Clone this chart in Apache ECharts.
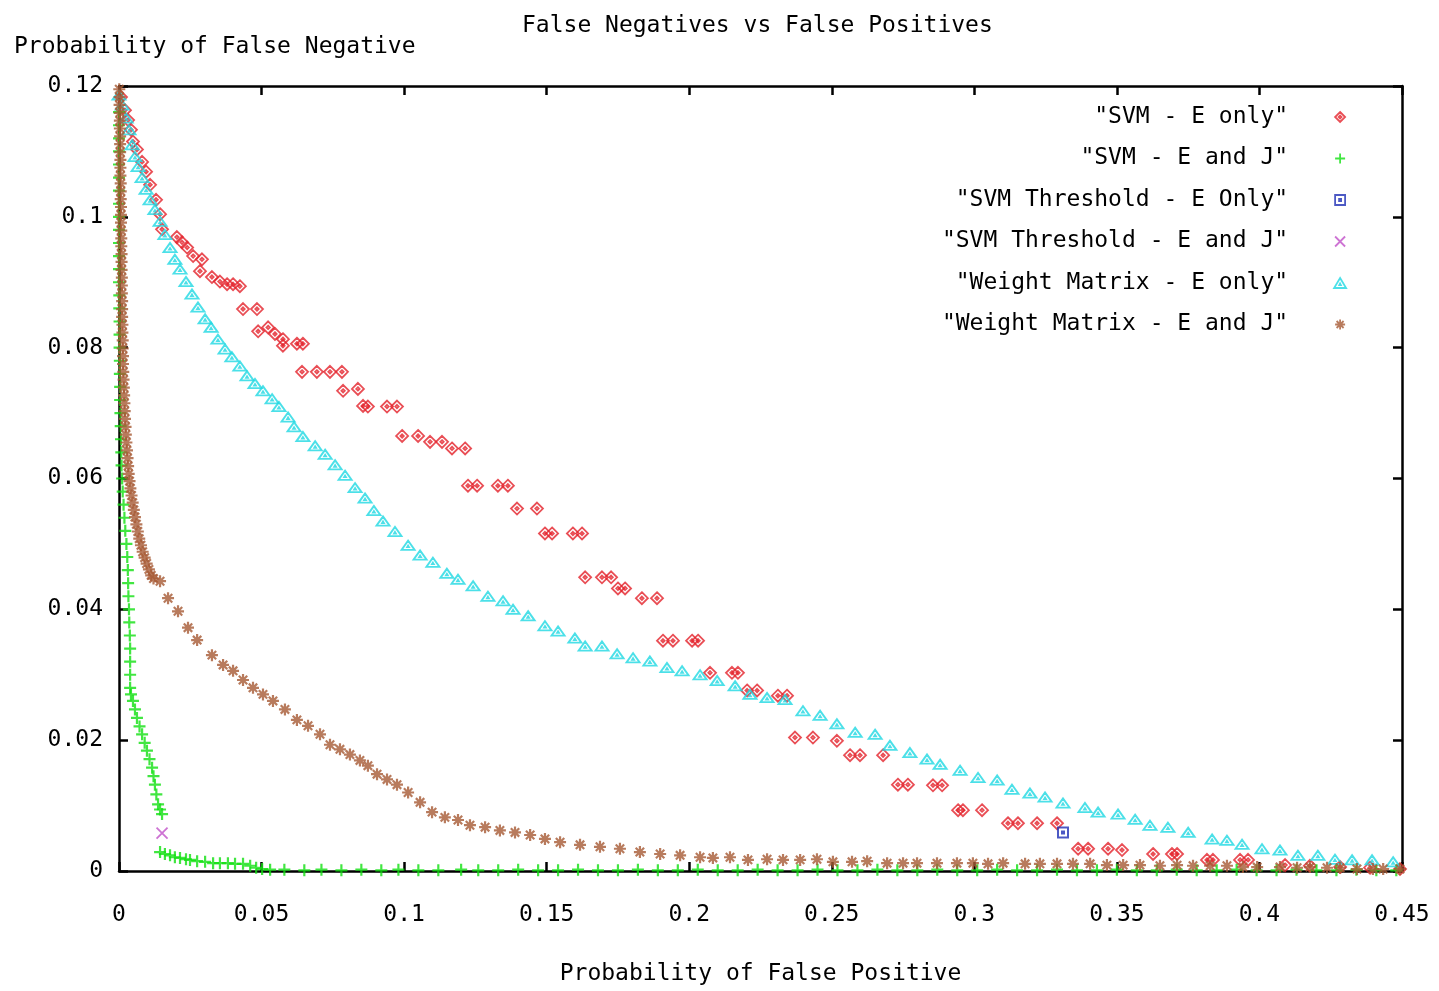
<!DOCTYPE html>
<html>
<head>
<meta charset="utf-8">
<script src="https://cdn.jsdelivr.net/npm/echarts@6/dist/echarts.min.js"></script>
<style>
  html, body { margin: 0; padding: 0; background: #ffffff; }
  #chart { width: 1439px; height: 991px; }
</style>
</head>
<body>
<div id="chart"></div>
<script>
// ---- series values: [probability of false positive, probability of false negative] ----
const svmEOnly = [
  [0.0007,0.1183],[0.0021,0.1163],[0.0032,0.1148],[0.0042,0.1133],[0.0049,0.1115],[0.0063,0.1103],
  [0.0081,0.1084],[0.0095,0.1069],[0.0109,0.1049],[0.0130,0.1026],[0.0144,0.1004],[0.0151,0.0981],
  [0.0203,0.0969],[0.0221,0.0961],[0.0239,0.0953],[0.0260,0.0940],[0.0291,0.0935],[0.0284,0.0917],
  [0.0326,0.0908],[0.0354,0.0901],[0.0379,0.0897],[0.0400,0.0897],[0.0424,0.0894],[0.0435,0.0859],
  [0.0484,0.0859],[0.0488,0.0825],[0.0523,0.0831],[0.0547,0.0821],[0.0575,0.0813],[0.0575,0.0803],
  [0.0624,0.0806],[0.0645,0.0806],[0.0642,0.0763],[0.0694,0.0763],[0.0740,0.0763],[0.0782,0.0763],
  [0.0786,0.0734],[0.0838,0.0737],[0.0856,0.0711],[0.0873,0.0710],[0.0940,0.0710],[0.0975,0.0710],
  [0.0993,0.0665],[0.1049,0.0665],[0.1091,0.0656],[0.1133,0.0656],[0.1168,0.0646],[0.1214,0.0646],
  [0.1224,0.0589],[0.1256,0.0589],[0.1329,0.0589],[0.1364,0.0589],[0.1396,0.0554],[0.1466,0.0554],
  [0.1494,0.0516],[0.1519,0.0516],[0.1592,0.0516],[0.1624,0.0516],[0.1635,0.0449],[0.1694,0.0449],
  [0.1726,0.0449],[0.1750,0.0432],[0.1775,0.0432],[0.1834,0.0417],[0.1887,0.0417],[0.1908,0.0352],
  [0.1943,0.0352],[0.2010,0.0352],[0.2031,0.0352],[0.2073,0.0303],[0.2150,0.0303],[0.2171,0.0303],
  [0.2203,0.0276],[0.2238,0.0276],[0.2311,0.0268],[0.2343,0.0268],[0.2371,0.0204],[0.2434,0.0204],
  [0.2518,0.0199],[0.2564,0.0177],[0.2599,0.0177],[0.2680,0.0177],[0.2732,0.0132],[0.2767,0.0132],
  [0.2855,0.0131],[0.2887,0.0131],[0.2943,0.0093],[0.2960,0.0093],[0.3027,0.0093],[0.3118,0.0073],
  [0.3153,0.0073],[0.3220,0.0073],[0.3290,0.0073],[0.3364,0.0034],[0.3399,0.0034],[0.3469,0.0034],
  [0.3518,0.0032],[0.3627,0.0026],[0.3693,0.0026],[0.3711,0.0026],[0.3816,0.0017],[0.3837,0.0017],
  [0.3932,0.0017],[0.3960,0.0017],[0.4090,0.0009],[0.4177,0.0008],[0.4283,0.0006],[0.4388,0.0005],
  [0.4493,0.0003]
];

const svmEJ = [
  [0.0000,0.1160],[0.0000,0.1140],[0.0000,0.1120],[0.0000,0.1100],[0.0000,0.1080],[0.0000,0.1060],
  [0.0000,0.1040],[0.0000,0.1020],[0.0000,0.1000],[0.0000,0.0980],[0.0000,0.0960],[0.0000,0.0940],
  [0.0000,0.0920],[0.0000,0.0900],[0.0001,0.0880],[0.0001,0.0860],[0.0002,0.0840],[0.0002,0.0820],
  [0.0002,0.0800],[0.0003,0.0780],[0.0003,0.0760],[0.0004,0.0740],[0.0004,0.0720],[0.0005,0.0700],
  [0.0006,0.0680],[0.0007,0.0660],[0.0008,0.0640],[0.0009,0.0620],[0.0011,0.0600],[0.0013,0.0580],
  [0.0016,0.0560],[0.0019,0.0540],[0.0022,0.0520],[0.0026,0.0500],[0.0029,0.0480],[0.0031,0.0460],
  [0.0032,0.0440],[0.0033,0.0420],[0.0035,0.0400],[0.0036,0.0380],[0.0038,0.0360],[0.0039,0.0340],
  [0.0039,0.0320],[0.0039,0.0300],[0.0039,0.0280],[0.0042,0.0270],[0.0049,0.0260],[0.0056,0.0247],
  [0.0063,0.0234],[0.0072,0.0221],[0.0081,0.0209],[0.0090,0.0196],[0.0098,0.0184],[0.0107,0.0171],
  [0.0116,0.0158],[0.0121,0.0145],[0.0126,0.0132],[0.0131,0.0117],[0.0137,0.0102],[0.0144,0.0094],
  [0.0151,0.0087],
  [0.0144,0.0029],[0.0161,0.0026],[0.0179,0.0024],[0.0196,0.0021],[0.0214,0.0020],[0.0235,0.0018],
  [0.0249,0.0017],[0.0274,0.0015],[0.0302,0.0014],[0.0330,0.0012],[0.0354,0.0012],[0.0382,0.0012],
  [0.0407,0.0011],[0.0435,0.0011],[0.0460,0.0008],[0.0481,0.0005],[0.0502,0.0003],[0.0530,0.0002],
  [0.0580,0.0002],[0.0650,0.0001],[0.0710,0.0002],[0.0780,0.0001],[0.0850,0.0002],[0.0920,0.0001],
  [0.0980,0.0002],[0.1050,0.0001],[0.1120,0.0001],[0.1200,0.0002],[0.1260,0.0001],[0.1330,0.0001],
  [0.1400,0.0002],[0.1470,0.0001],[0.1540,0.0001],[0.1610,0.0002],[0.1680,0.0001],[0.1750,0.0001],
  [0.1820,0.0002],[0.1890,0.0001],[0.1960,0.0001],[0.2030,0.0002],[0.2100,0.0001],[0.2170,0.0001],
  [0.2240,0.0002],[0.2310,0.0001],[0.2380,0.0001],[0.2450,0.0002],[0.2520,0.0001],[0.2590,0.0001],
  [0.2660,0.0002],[0.2730,0.0001],[0.2800,0.0001],[0.2870,0.0002],[0.2940,0.0001],[0.3010,0.0001],
  [0.3080,0.0002],[0.3150,0.0001],[0.3220,0.0001],[0.3290,0.0002],[0.3360,0.0001],[0.3430,0.0001],
  [0.3500,0.0002],[0.3570,0.0001],[0.3640,0.0001],[0.3710,0.0002],[0.3780,0.0001],[0.3850,0.0001],
  [0.3920,0.0002],[0.3990,0.0001],[0.4060,0.0001],[0.4130,0.0002],[0.4200,0.0001],[0.4270,0.0001],
  [0.4340,0.0002],[0.4410,0.0001],[0.4480,0.0001]
];

const thresholdEOnly = [[0.3311,0.0059]];
const thresholdEJ = [[0.0151,0.0058]];

const weightEOnly = [
  [0.0000,0.1186],[0.0011,0.1171],[0.0025,0.1151],[0.0035,0.1133],[0.0046,0.1110],[0.0056,0.1092],
  [0.0067,0.1077],[0.0081,0.1060],[0.0095,0.1042],[0.0109,0.1026],[0.0126,0.1011],[0.0144,0.0993],
  [0.0161,0.0973],[0.0179,0.0953],[0.0196,0.0935],[0.0214,0.0920],[0.0235,0.0901],[0.0256,0.0882],
  [0.0277,0.0862],[0.0302,0.0844],[0.0323,0.0831],[0.0347,0.0813],[0.0372,0.0798],[0.0396,0.0786],
  [0.0424,0.0772],[0.0449,0.0757],[0.0477,0.0745],[0.0505,0.0734],[0.0537,0.0722],[0.0561,0.0710],
  [0.0593,0.0694],[0.0614,0.0679],[0.0645,0.0664],[0.0688,0.0650],[0.0723,0.0637],[0.0758,0.0621],
  [0.0793,0.0605],[0.0828,0.0586],[0.0863,0.0570],[0.0894,0.0551],[0.0926,0.0535],[0.0968,0.0519],
  [0.1014,0.0498],[0.1056,0.0483],[0.1101,0.0472],[0.1150,0.0455],[0.1189,0.0446],[0.1242,0.0436],
  [0.1294,0.0420],[0.1347,0.0413],[0.1382,0.0400],[0.1435,0.0390],[0.1494,0.0375],[0.1540,0.0367],
  [0.1599,0.0356],[0.1635,0.0344],[0.1694,0.0344],[0.1747,0.0332],[0.1803,0.0326],[0.1862,0.0321],
  [0.1922,0.0311],[0.1975,0.0306],[0.2038,0.0300],[0.2098,0.0291],[0.2161,0.0283],[0.2213,0.0270],
  [0.2273,0.0265],[0.2336,0.0262],[0.2399,0.0245],[0.2459,0.0238],[0.2518,0.0225],[0.2582,0.0212],
  [0.2652,0.0209],[0.2704,0.0192],[0.2774,0.0181],[0.2834,0.0171],[0.2880,0.0163],[0.2950,0.0154],
  [0.3013,0.0143],[0.3080,0.0139],[0.3132,0.0125],[0.3195,0.0119],[0.3248,0.0113],[0.3311,0.0104],
  [0.3388,0.0097],[0.3434,0.0090],[0.3504,0.0087],[0.3564,0.0079],[0.3616,0.0070],[0.3679,0.0067],
  [0.3750,0.0059],[0.3834,0.0049],[0.3886,0.0047],[0.3939,0.0041],[0.4009,0.0034],[0.4072,0.0032],
  [0.4135,0.0024],[0.4205,0.0024],[0.4265,0.0018],[0.4325,0.0017],[0.4395,0.0017],[0.4469,0.0014]
];

const weightEJ = [
  [0.0001,0.1195],[0.0002,0.1183],[0.0002,0.1171],[0.0003,0.1159],[0.0003,0.1147],[0.0003,0.1135],
  [0.0004,0.1123],[0.0004,0.1111],[0.0004,0.1099],[0.0005,0.1087],[0.0005,0.1075],[0.0005,0.1063],
  [0.0006,0.1051],[0.0006,0.1039],[0.0006,0.1027],[0.0007,0.1015],[0.0007,0.1003],[0.0007,0.0991],
  [0.0008,0.0979],[0.0008,0.0967],[0.0008,0.0955],[0.0009,0.0943],[0.0009,0.0931],[0.0009,0.0919],
  [0.0010,0.0907],[0.0010,0.0895],[0.0010,0.0883],[0.0011,0.0871],[0.0011,0.0859],[0.0011,0.0847],
  [0.0012,0.0835],[0.0012,0.0823],[0.0013,0.0811],[0.0013,0.0799],[0.0014,0.0787],[0.0014,0.0775],
  [0.0015,0.0763],[0.0016,0.0751],[0.0017,0.0739],[0.0018,0.0727],[0.0019,0.0715],[0.0020,0.0703],
  [0.0021,0.0691],[0.0023,0.0679],[0.0024,0.0667],[0.0026,0.0655],[0.0028,0.0643],[0.0030,0.0631],
  [0.0032,0.0619],[0.0034,0.0607],[0.0037,0.0596],[0.0040,0.0585],[0.0044,0.0574],[0.0048,0.0563],
  [0.0052,0.0552],[0.0056,0.0541],[0.0061,0.0530],[0.0066,0.0519],[0.0071,0.0508],[0.0077,0.0498],
  [0.0083,0.0488],[0.0090,0.0479],[0.0097,0.0470],[0.0105,0.0461],[0.0113,0.0452],[0.0121,0.0447],
  [0.0144,0.0443],[0.0172,0.0417],[0.0207,0.0397],[0.0242,0.0372],[0.0274,0.0353],[0.0326,0.0330],
  [0.0365,0.0315],[0.0400,0.0306],[0.0435,0.0292],[0.0470,0.0280],[0.0505,0.0270],[0.0540,0.0260],
  [0.0582,0.0247],[0.0624,0.0231],[0.0663,0.0222],[0.0705,0.0209],[0.0740,0.0193],[0.0775,0.0186],
  [0.0810,0.0178],[0.0845,0.0169],[0.0873,0.0161],[0.0905,0.0148],[0.0940,0.0140],[0.0975,0.0132],
  [0.1014,0.0120],[0.1056,0.0105],[0.1098,0.0090],[0.1143,0.0082],[0.1189,0.0078],[0.1231,0.0070],
  [0.1284,0.0067],[0.1336,0.0062],[0.1389,0.0059],[0.1442,0.0055],[0.1494,0.0049],[0.1547,0.0044],
  [0.1617,0.0040],[0.1687,0.0037],[0.1757,0.0034],[0.1827,0.0029],[0.1898,0.0026],[0.1968,0.0024],
  [0.2038,0.0021],[0.2083,0.0020],[0.2143,0.0021],[0.2206,0.0017],[0.2273,0.0018],[0.2329,0.0017],
  [0.2389,0.0017],[0.2448,0.0018],[0.2504,0.0014],[0.2571,0.0014],[0.2624,0.0015],[0.2694,0.0012],
  [0.2750,0.0012],[0.2799,0.0012],[0.2869,0.0012],[0.2939,0.0012],[0.2995,0.0012],[0.3048,0.0011],
  [0.3101,0.0012],[0.3178,0.0011],[0.3230,0.0011],[0.3290,0.0011],[0.3346,0.0011],[0.3406,0.0011],
  [0.3465,0.0009],[0.3522,0.0009],[0.3581,0.0009],[0.3651,0.0008],[0.3711,0.0009],[0.3767,0.0008],
  [0.3827,0.0008],[0.3886,0.0008],[0.3942,0.0006],[0.3992,0.0006],[0.4072,0.0006],[0.4132,0.0005],
  [0.4177,0.0006],[0.4237,0.0005],[0.4283,0.0005],[0.4342,0.0003],[0.4398,0.0003],[0.4434,0.0003],
  [0.4493,0.0003]
];

const seriesNames = [
  'SVM - E only',
  'SVM - E and J',
  'SVM Threshold - E Only',
  'SVM Threshold - E and J',
  'Weight Matrix - E only',
  'Weight Matrix - E and J'
];
const seriesData = [svmEOnly, svmEJ, thresholdEOnly, thresholdEJ, weightEOnly, weightEJ];

const chartTitle = 'False Negatives vs False Positives';
const xAxisTitle = 'Probability of False Positive';
const yAxisTitle = 'Probability of False Negative';

// ---- marker styles (gnuplot-like point types) ----
const FONT = 'DejaVu Sans Mono';
const markers = [
  { symbol: 'path://M5,0L10,5L5,10L0,5Z M5,3.6L6.4,5L5,6.4L3.6,5Z', size: [12, 12], color: '#e4222a', width: 1.8 },
  { symbol: 'path://M5,0V10M0,5H10', size: [12, 12], color: '#12e012', width: 2.2 },
  { symbol: 'path://M0,0H10V10H0Z M4,4H6V6H4Z', size: [10, 10], color: '#1f2fb5', width: 2 },
  { symbol: 'path://M0,0L10,10M10,0L0,10', size: [11, 11], color: '#c050c8', width: 1.8 },
  { symbol: 'path://M6,0L12,10H0Z M6,5.6L6.8,7.2H5.2Z', size: [13, 11], color: '#1fd8e2', width: 1.9 },
  { symbol: 'path://M5,0V10M0,5H10M1.5,1.5L8.5,8.5M8.5,1.5L1.5,8.5', size: [12, 12], color: '#a65a34', width: 2.2 }
];

const series = seriesNames.map((name, i) => ({
  name: name,
  type: 'scatter',
  data: seriesData[i],
  symbol: markers[i].symbol,
  symbolSize: markers[i].size,
  symbolKeepAspect: true,
  itemStyle: {
    color: 'rgba(0,0,0,0)',
    borderColor: markers[i].color,
    borderWidth: markers[i].width
  },
  emphasis: { disabled: true },
  animation: false
}));

const frameAxis = {
  axisLine: { show: true, onZero: false, lineStyle: { color: '#000', width: 2.5 } },
  axisTick: { show: true, inside: true, length: 9, lineStyle: { color: '#000', width: 2.5 } },
  splitLine: { show: false }
};

const chart = echarts.init(document.getElementById('chart'), null, { renderer: 'canvas' });
chart.setOption({
  backgroundColor: '#ffffff',
  animation: false,
  title: [
    { text: chartTitle, left: 517, top: 10, textStyle: { fontFamily: FONT, fontSize: 23, fontWeight: 'normal', color: '#000' } },
    { text: yAxisTitle, left: 9, top: 31, textStyle: { fontFamily: FONT, fontSize: 23, fontWeight: 'normal', color: '#000' } }
  ],
  grid: { left: 119, right: 37, top: 86, bottom: 117, containLabel: false },
  legend: {
    orient: 'vertical',
    align: 'right',
    right: 92,
    top: 104,
    padding: 0,
    itemWidth: 94,
    itemHeight: 10,
    itemGap: 15.5,
    selectedMode: false,
    formatter: '"{name}"',
    itemStyle: { borderWidth: 1.8 },
    textStyle: { fontFamily: FONT, fontSize: 23, lineHeight: 26, color: '#000' },
    data: seriesNames
  },
  xAxis: [
    Object.assign({
      type: 'value', min: 0, max: 0.45, interval: 0.05, position: 'bottom',
      name: xAxisTitle, nameLocation: 'middle', nameGap: 92,
      nameTextStyle: { fontFamily: FONT, fontSize: 23, color: '#000' },
      axisLabel: { fontFamily: FONT, fontSize: 23, color: '#000', margin: 33 }
    }, frameAxis),
    Object.assign({
      type: 'value', min: 0, max: 0.45, interval: 0.05, position: 'top',
      axisLabel: { show: false }
    }, frameAxis)
  ],
  yAxis: [
    Object.assign({
      type: 'value', min: 0, max: 0.12, interval: 0.02, position: 'left',
      axisLabel: { fontFamily: FONT, fontSize: 23, color: '#000', margin: 16 }
    }, frameAxis),
    Object.assign({
      type: 'value', min: 0, max: 0.12, interval: 0.02, position: 'right',
      axisLabel: { show: false }
    }, frameAxis)
  ],
  series: series
});
</script>
</body>
</html>
